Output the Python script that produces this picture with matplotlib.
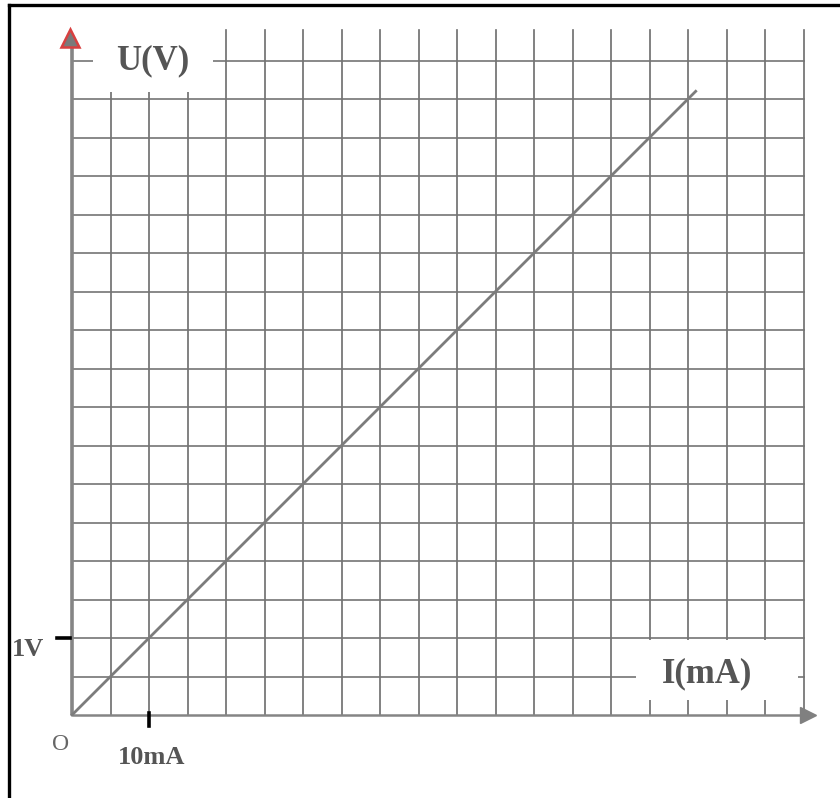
import matplotlib
matplotlib.use("Agg")
import matplotlib.pyplot as plt
from matplotlib.patches import Rectangle
from matplotlib.lines import Line2D
import numpy as np

# data: U = R*I with R = 100 ohm
current_mA = [0, 10, 20, 30, 40, 50, 60, 70, 81]
voltage_V = [0, 1, 2, 3, 4, 5, 6, 7, 8.1]

# grid: 5 mA per column, 0.5 V per row
grid_x = np.arange(0, 96, 5)
grid_y = np.arange(0, 8.6, 0.5)
tick_I = 10
tick_U = 1
tick_labels = ["10mA", "1V"]
x_label = "I(mA)"
y_label = "U(V)"

GRID = "#6c6c6c"
AXIS = "#858585"
TEXT = "#555555"
serif = ["Liberation Serif", "DejaVu Serif"]

fig = plt.figure(figsize=(8.4, 7.98), dpi=100)
ax = fig.add_axes([0, 0, 1, 1])
# pixel mapping: origin at (72, 715), 38.5 px per cell
ax.set_xlim(-72 / 7.7, (840 - 72) / 7.7)
ax.set_ylim(-(798 - 715) / 77.0, 715 / 77.0)
ax.axis("off")

# grid lines
for x in grid_x[1:]:
    ax.plot([x, x], [0, 8.9], color=GRID, lw=1.2, zorder=1)
for y in grid_y[1:]:
    ax.plot([0, grid_x[-1]], [y, y], color="#747474", lw=1.2, zorder=1)

# white boxes behind the axis names
ax.add_patch(Rectangle((2.7, 8.09), 15.6, 0.9, facecolor="white", edgecolor="none", zorder=2))
ax.add_patch(Rectangle((73.2, 0.2), 21.1, 0.78, facecolor="white", edgecolor="none", zorder=2))
ax.text(10.5, 8.5, y_label, fontsize=25, fontweight="bold", family=serif,
        color=TEXT, ha="center", va="center", zorder=3)
ax.text(82.5, 0.54, x_label, fontsize=25, fontweight="bold", family=serif,
        color=TEXT, ha="center", va="center", zorder=3)

# axes with arrows
ax.plot([0, 0], [0, 8.72], color=AXIS, lw=2.6, zorder=4, solid_capstyle="butt")
ax.plot([0, 95], [0, 0], color=AXIS, lw=1.8, zorder=4, solid_capstyle="butt")
ax.plot([-0.2], [8.79], marker="^", markersize=13, markerfacecolor="#7a7a7a",
        markeredgecolor="#d84040", markeredgewidth=1.8, zorder=5)
ax.plot([95.6], [0], marker=">", markersize=11, color="#808080", zorder=5)

# the characteristic
ax.plot(current_mA, voltage_V, color="#7c7c7c", lw=2.0, zorder=4)

# ticks and their labels
ax.plot([-1.95, -0.25], [tick_U, tick_U], color="black", lw=2.6, zorder=6)
ax.plot([tick_I, tick_I], [-0.14, 0.02], color="black", lw=2.6, zorder=6)
ax.text(tick_I + 0.4, -0.55, tick_labels[0], fontsize=19, fontweight="bold", family=serif,
        color=TEXT, ha="center", va="center")
ax.text(-5.7, tick_U - 0.15, tick_labels[1], fontsize=19, fontweight="bold", family=serif,
        color=TEXT, ha="center", va="center")
ax.text(-1.5, -0.38, "O", fontsize=17, family=serif, color="#666666",
        ha="center", va="center")

# frame (top and left only)
fig.add_artist(Line2D([9 / 840, 9 / 840], [0, 1 - 5 / 798], color="black", lw=2.4,
                      transform=fig.transFigure))
fig.add_artist(Line2D([9 / 840, 1], [1 - 5 / 798, 1 - 5 / 798], color="black", lw=2.4,
                      transform=fig.transFigure))

fig.savefig("out.png", dpi=100)
